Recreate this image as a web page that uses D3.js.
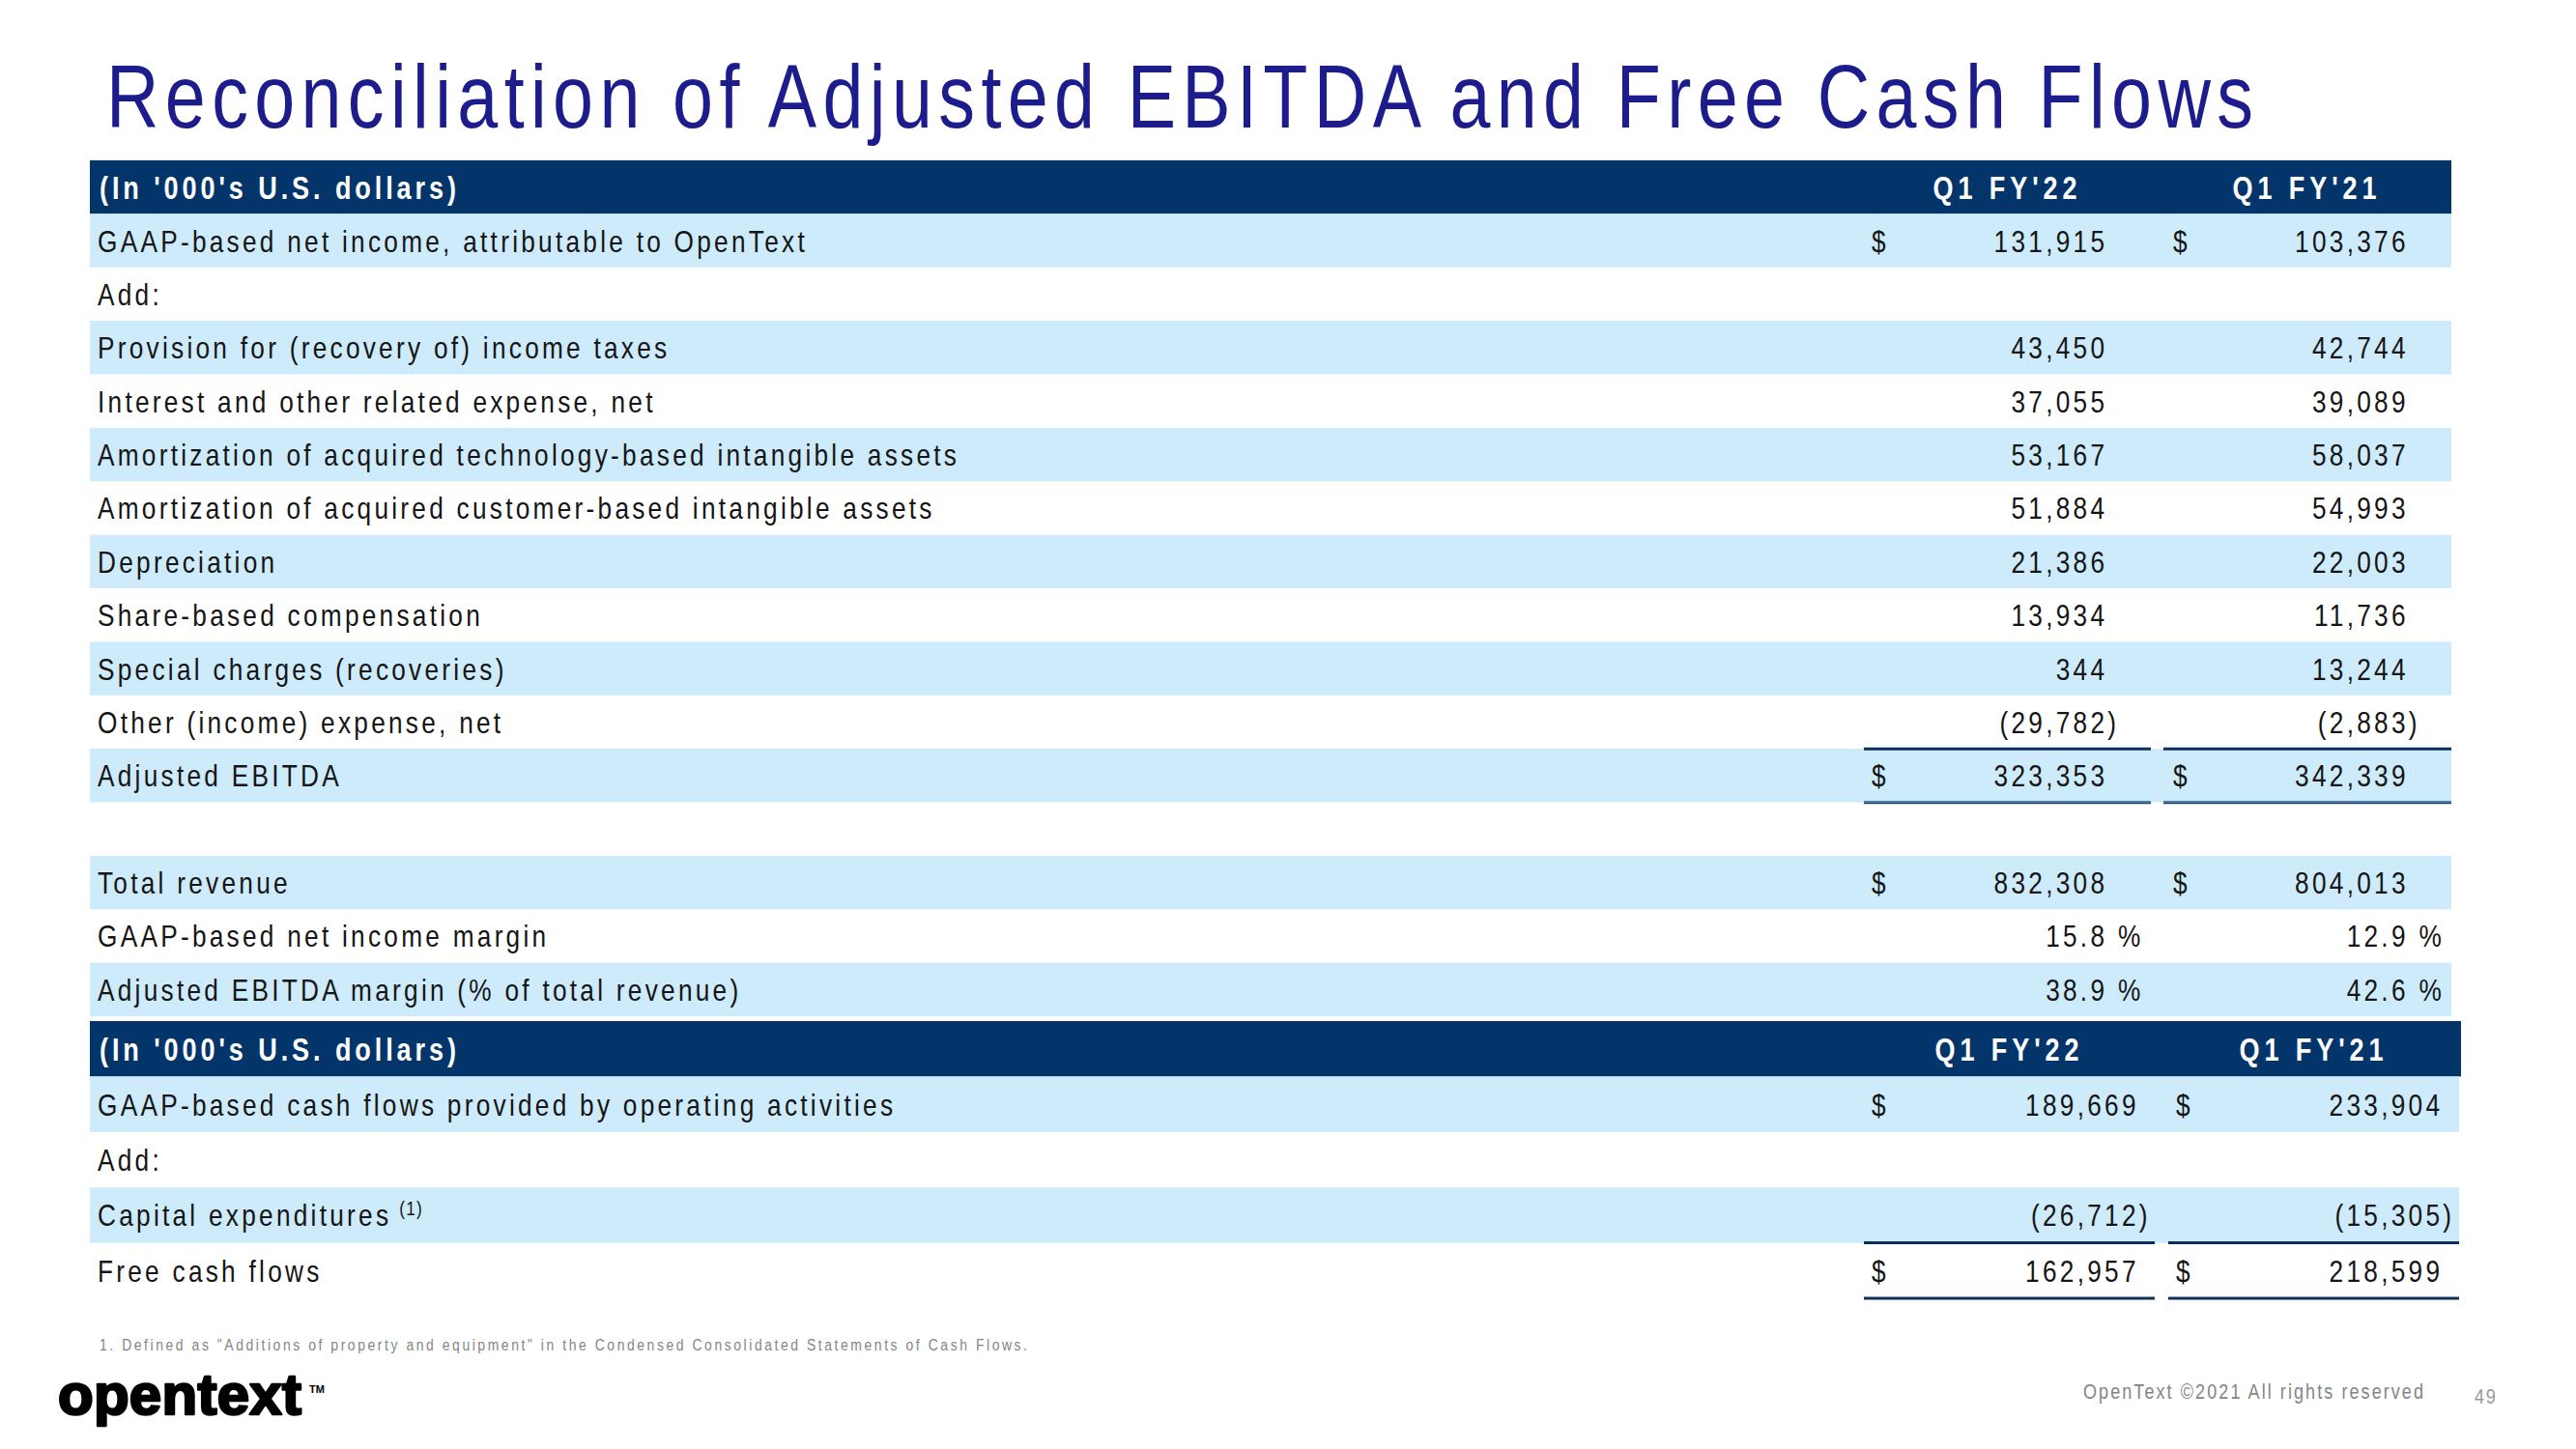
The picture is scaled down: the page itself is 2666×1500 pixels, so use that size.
<!DOCTYPE html>
<html><head><meta charset="utf-8">
<script src="https://cdn.jsdelivr.net/npm/d3@7/dist/d3.min.js"></script>
<style>body{margin:0;background:#fff}svg{display:block}text{font-family:"Liberation Sans",Arial,sans-serif}</style>
</head><body>
<svg id="chart" width="2666" height="1500"></svg>
<script>
// ---------- data ----------
const title = "Reconciliation of Adjusted EBITDA and Free Cash Flows";
const unitLabel = "(In '000's U.S. dollars)";
const periods = ["Q1 FY'22", "Q1 FY'21"];

const ebitdaLabels = [
  "GAAP-based net income, attributable to OpenText", "Add:",
  "Provision for (recovery of) income taxes", "Interest and other related expense, net",
  "Amortization of acquired technology-based intangible assets",
  "Amortization of acquired customer-based intangible assets",
  "Depreciation", "Share-based compensation", "Special charges (recoveries)",
  "Other (income) expense, net", "Adjusted EBITDA", "",
  "Total revenue", "GAAP-based net income margin", "Adjusted EBITDA margin (% of total revenue)"
];
const ebitdaFY22 = [131915, null, 43450, 37055, 53167, 51884, 21386, 13934, 344, -29782, 323353, null, 832308, 15.8, 38.9];
const ebitdaFY21 = [103376, null, 42744, 39089, 58037, 54993, 22003, 11736, 13244, -2883, 342339, null, 804013, 12.9, 42.6];
const ebitdaKinds = ["dollar","none","num","num","num","num","num","num","num","num","dollar","none","dollar","pct","pct"];

const fcfLabels = ["GAAP-based cash flows provided by operating activities", "Add:", "Capital expenditures", "Free cash flows"];
const fcfFY22 = [189669, null, -26712, 162957];
const fcfFY21 = [233904, null, -15305, 218599];
const fcfKinds = ["dollar","none","num","dollar"];
const fcfSuper = ["", "", "(1)", ""];

const footnote = "1. Defined as \"Additions of property and equipment\" in the Condensed Consolidated Statements of Cash Flows.";
const copyright = "OpenText \u00A92021 All rights reserved";
const pageNo = "49";
const logo = "opentext";

// ---------- style ----------
const NAVY = "#03356a", LIGHT = "#cdebfb", INK = "#151515", TITLE = "#1c1c8c", GRAY = "#858585";
const SX = 0.82; // narrow face emulation
const svg = d3.select("#chart");
const shapes = svg.append("g");
const texts = svg.append("g").attr("transform", `scale(${SX},1)`);
const fmtN = d3.format(",");
const fmtP = d3.format(".1f");

function T(x, y, s, size, o = {}) {
  const t = texts.append("text").attr("x", x / SX).attr("y", y).attr("font-size", size)
    .attr("fill", o.fill || INK).text(s);
  if (o.bold) t.attr("font-weight", "bold");
  if (o.anchor) t.attr("text-anchor", o.anchor);
  if (o.ls != null) t.attr("letter-spacing", o.ls);
  return t;
}
// fit width (px, physical) -> returns local letter-spacing
function fit(sel, targetPx) {
  const node = sel.node();
  sel.attr("letter-spacing", 0);
  const w = node.getComputedTextLength();
  const n = node.textContent.length;
  const ls = (targetPx / SX - w) / (n - 1);
  sel.attr("letter-spacing", ls);
  return ls;
}

// title
fit(T(110, 132, title, 92, {fill: TITLE}), 2222);

// label letter spacing from measured label widths
const LF = 32;
const probes = [[ebitdaLabels[0], 838], [ebitdaLabels[4], 986], [ebitdaLabels[5], 962], [ebitdaLabels[14], 769], [fcfLabels[0], 923]];
let lsSum = 0;
probes.forEach(([s, e]) => {
  const p = T(0, -100, s, LF);
  lsSum += fit(p, e - 102);
  p.remove();
});
const LS = lsSum / probes.length;

function drawTable(cfg) {
  const n = cfg.labels.length + 1;
  const y = d3.scaleBand().domain(d3.range(n)).range([cfg.top, cfg.bottom]);
  const bh = y.bandwidth();
  // header
  shapes.append("rect").attr("x", 93).attr("y", y(0)).attr("width", cfg.headRight - 93).attr("height", bh).attr("fill", NAVY);
  const base0 = y(0) + bh / 2 + 12;
  fit(T(103, base0, unitLabel, 33, {bold: true, fill: "#fff"}), 369);
  periods.forEach((p, i) => {
    const tt = T(cfg.headCenter[i], base0, p, 33, {bold: true, fill: "#fff", anchor: "middle"});
    const ls = fit(tt, 149);
    tt.attr("dx", ls / 2);
  });
  // stripes
  cfg.labels.forEach((lab, k) => {
    const r = k + 1;
    if (r % 2 === 1) {
      shapes.append("rect").attr("x", 93).attr("y", y(r)).attr("width", cfg.rowRight - 93).attr("height", bh).attr("fill", LIGHT);
    }
  });
  // rows
  cfg.labels.forEach((lab, k) => {
    const r = k + 1;
    const base = y(r) + bh / 2 + 11.5;
    const lt = T(101, base, lab, LF, {ls: LS});
    if (cfg.sup && cfg.sup[k]) {
      const w = lt.node().getComputedTextLength() * SX;
      T(101 + w + 8, base - 11, cfg.sup[k], 21, {ls: 1.5});
    }
    const kind = cfg.kinds[k];
    if (kind === "none") return;
    [cfg.v22, cfg.v21].forEach((vals, c) => {
      const v = vals[k];
      if (v == null) return;
      if (kind === "dollar") T(cfg.dollarX[c], base, "$", LF);
      const right = cfg.numRight[c] + LS * SX;
      if (kind === "pct") {
        T(right, base, fmtP(v), LF, {ls: LS, anchor: "end"});
        T(cfg.numRight[c] + 14, base, "%", LF);
      } else if (v < 0) {
        const tx = T(right, base, "(" + fmtN(-v) + ")", LF, {ls: LS, anchor: "end"});
        const pw = tx.node().getSubStringLength(tx.node().textContent.length - 1, 1);
        tx.attr("x", right / SX + pw);
      } else {
        T(right, base, fmtN(v), LF, {ls: LS, anchor: "end"});
      }
    });
  });
  // underlines
  cfg.lines.forEach(L => {
    const yy = L.pos === "top" ? y(L.row) : y(L.row) + bh;
    cfg.lineX.forEach(([x0, x1]) => {
      if (L.double) {
        shapes.append("line").attr("x1", x0).attr("x2", x1).attr("y1", yy - 0.8).attr("y2", yy - 0.8).attr("stroke", "#4a78ad").attr("stroke-width", 1.6);
        shapes.append("line").attr("x1", x0).attr("x2", x1).attr("y1", yy + 0.9).attr("y2", yy + 0.9).attr("stroke", "#143f70").attr("stroke-width", 1.8);
      } else {
        shapes.append("line").attr("x1", x0).attr("x2", x1).attr("y1", yy).attr("y2", yy).attr("stroke", "#0b2f5f").attr("stroke-width", 3);
      }
    });
  });
}

drawTable({
  labels: ebitdaLabels, v22: ebitdaFY22, v21: ebitdaFY21, kinds: ebitdaKinds,
  top: 166, bottom: 1052, headRight: 2537, rowRight: 2537,
  headCenter: [2075, 2385], dollarX: [1937, 2249], numRight: [2178, 2489.5],
  lineX: [[1929, 2226], [2239, 2537]],
  lines: [{row: 11, pos: "top"}, {row: 11, pos: "bottom", double: true}]
});
drawTable({
  labels: fcfLabels, v22: fcfFY22, v21: fcfFY21, kinds: fcfKinds, sup: fcfSuper,
  top: 1057, bottom: 1344, headRight: 2547, rowRight: 2545,
  headCenter: [2077, 2392], dollarX: [1937, 2252], numRight: [2210.5, 2525],
  lineX: [[1929, 2230], [2244, 2545]],
  lines: [{row: 3, pos: "bottom"}, {row: 4, pos: "bottom"}]
});

// footnote & footer
fit(T(103, 1398, footnote, 17, {fill: GRAY}), 960);
fit(T(2156, 1448, copyright, 22, {fill: GRAY}), 352);
T(2561, 1453, pageNo, 22, {fill: "#9a9a9a", ls: 2});
// logo (not narrow)
const lg = svg.append("text").attr("x", 60).attr("y", 1464).attr("font-size", 60).attr("font-weight", "bold")
  .attr("fill", "#000").attr("stroke", "#000").attr("stroke-width", 2.6).attr("stroke-linejoin", "round").text(logo);
lg.attr("letter-spacing", 0);
const lw = lg.node().getComputedTextLength();
lg.attr("letter-spacing", (252 - lw) / 7);
svg.append("text").attr("x", 320).attr("y", 1442).attr("font-size", 11).attr("font-weight", "bold").attr("fill", "#000").text("TM");
</script>
</body></html>
